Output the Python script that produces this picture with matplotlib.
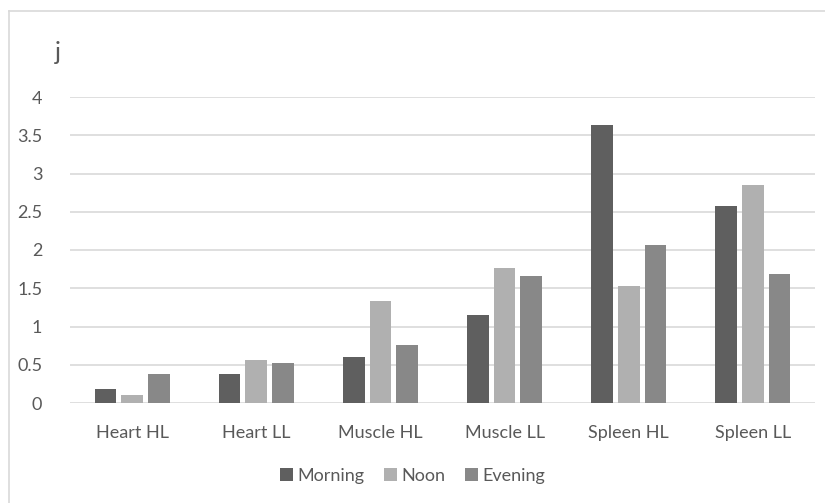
import matplotlib.pyplot as plt
import numpy as np
from matplotlib.lines import Line2D

categories = ["Heart HL", "Heart LL", "Muscle HL", "Muscle LL", "Spleen HL", "Spleen LL"]
morning = [0.18, 0.38, 0.60, 1.15, 3.63, 2.57]
noon = [0.10, 0.56, 1.33, 1.76, 1.53, 2.85]
evening = [0.38, 0.52, 0.76, 1.66, 2.06, 1.69]
series_names = ["Morning", "Noon", "Evening"]
y_ticks = [0, 0.5, 1, 1.5, 2, 2.5, 3, 3.5, 4]
y_tick_labels = ["0", "0.5", "1", "1.5", "2", "2.5", "3", "3.5", "4"]

colors = ["#5f5f5f", "#b0b0b0", "#888888"]
text_color = "#595959"
font = "Lato"

W, H = 825, 503
fig = plt.figure(figsize=(W / 100, H / 100), dpi=100)
ax = fig.add_axes([70 / W, 1 - 403 / H, (815 - 70) / W, (403 - 97) / H])

x = np.arange(len(categories))
bw = 0.175
step = 0.215
for i, (vals, name) in enumerate(zip([morning, noon, evening], series_names)):
    ax.bar(x + (i - 1) * step, vals, width=bw, color=colors[i], label=name,
           zorder=3)

ax.set_xlim(-0.5, len(categories) - 0.5)
ax.set_ylim(0, 4)
ax.set_yticks(y_ticks)
ax.set_yticklabels(y_tick_labels, fontsize=13, color=text_color, family=font)
ax.set_xticks(x)
ax.set_xticklabels(categories, fontsize=13, color=text_color, family=font)
ax.tick_params(axis="both", length=0)
ax.tick_params(axis="y", pad=20)
ax.tick_params(axis="x", pad=16)
ax.grid(axis="y", color="#d9d9d9", linewidth=1.2, zorder=0)
for s in ax.spines.values():
    s.set_visible(False)

fig.text(58 / W, 1 - 52 / H, "j", fontsize=18, color=text_color, family=font,
         ha="center", va="center")

leg = fig.legend(loc="center", bbox_to_anchor=(0.5, 1 - 476 / H), ncol=3,
                 frameon=False, handlelength=0.7, handleheight=0.7,
                 handletextpad=0.25, columnspacing=1.1,
                 prop={"family": font, "size": 13})
for t in leg.get_texts():
    t.set_color(text_color)

# chart area border (left and top edges)
fig.add_artist(Line2D([9 / W, 9 / W], [0, 1 - 11 / H], transform=fig.transFigure,
                      color="#d9d9d9", linewidth=1.2))
fig.add_artist(Line2D([9 / W, 1], [1 - 11 / H, 1 - 11 / H], transform=fig.transFigure,
                      color="#d9d9d9", linewidth=1.2))

fig.savefig("out.png", dpi=100, facecolor="white")
